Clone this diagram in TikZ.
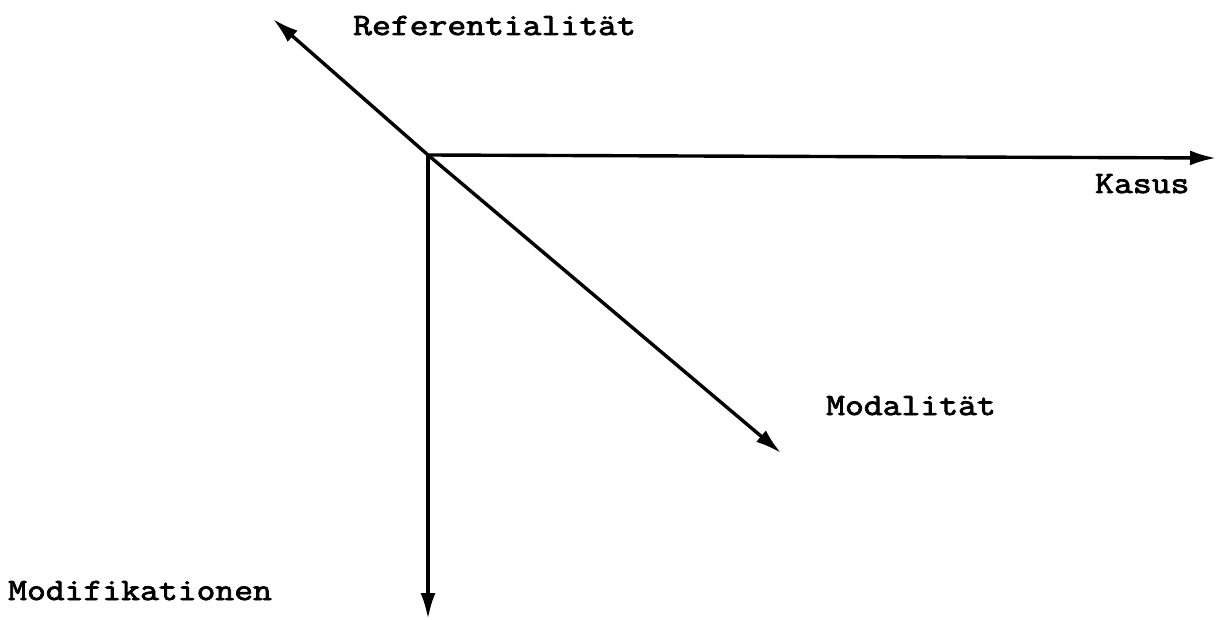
\documentclass[tikz,border=0pt]{standalone}
\usepackage{fontspec}
\newfontfamily\labelfont[FakeBold=2.6, FakeStretch=1.18]{Latin Modern Mono}
\usetikzlibrary{arrows.meta, positioning}

\begin{document}
\begin{tikzpicture}[
  x=1pt, y=-1pt,
  every node/.style={font=\labelfont\fontsize{31}{37}\selectfont, inner sep=0pt},
  axis/.style={-{Latex[length=26pt, width=15pt]}, line width=3.4pt},
  axislabel/.style={anchor=base west}
]
\useasboundingbox (0,0) rectangle (1217,620);

% origin and axis ends
\coordinate (o) at (428,155);
\coordinate (ref) at (273,19);
\coordinate (kas) at (1216,158);
\coordinate (mod) at (781,453);
\coordinate (modi) at (428,619);

% axes
\draw[axis] (o) -- (ref);
\draw[axis] (o) -- (kas);
\draw[axis] (o) -- (mod);
\draw[axis] (o) -- (modi);

% labels
\node[axislabel] (reflabel) at (353,35) {Referentialität};
\node[axislabel] (kaslabel) at (1095,193) {Kasus};
\node[axislabel] (modlabel) at (826,415) {Modalität};
\node[axislabel] (modilabel) at (8,600) {Modifikationen};

\end{tikzpicture}
\end{document}
